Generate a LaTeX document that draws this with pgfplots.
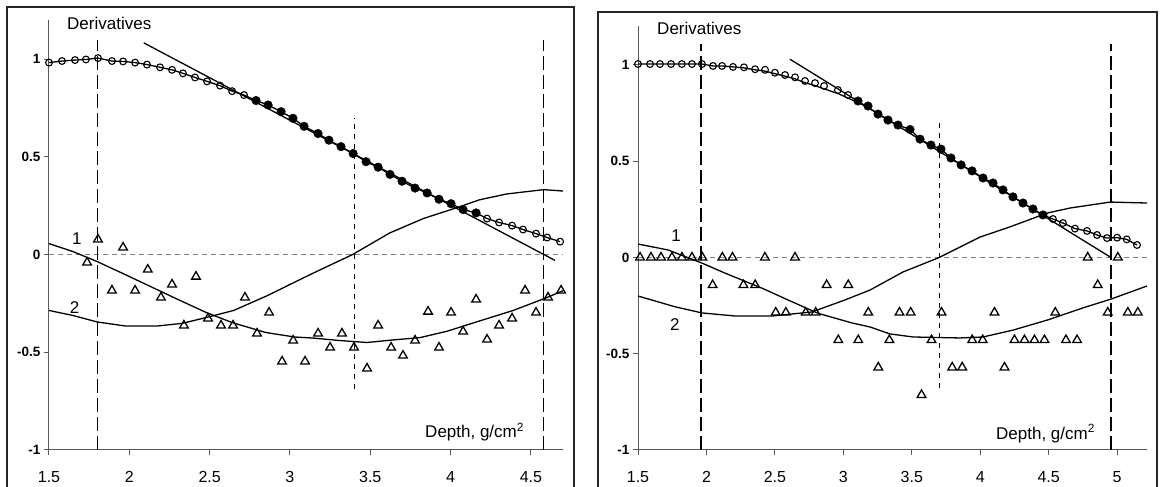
\documentclass[border=0pt]{standalone}
\usepackage{fontspec}
\setmainfont{Liberation Sans}
\usepackage{pgfplots}
\pgfplotsset{compat=1.18}
\tikzset{lbl/.style={font=\fontsize{17}{20}\selectfont, inner sep=0pt}}
\pgfplotsset{
 mystyle/.style={
  scale only axis, axis lines=left,
  axis line style={-, gray!70!black, line width=1pt},
  tick style={gray!70!black, line width=1pt}, tick align=outside, major tick length=5pt,
  ymin=-1, ymax=1.2, ytick={-1,-0.5,0,0.5,1}, yticklabels={-1,-0.5,0,0.5,1},
  yticklabel style={font=\bfseries\fontsize{13.5}{15}\selectfont},
  xticklabel style={font=\fontsize{16}{18}\selectfont, yshift=-13pt},
  clip=false,
 },
 crv/.style={black, line width=1.3pt, no marks},
 tri/.style={only marks, mark=triangle, mark size=5pt, mark options={black, line width=1.3pt}},
 oc/.style={only marks, mark=o, mark size=3.4pt, mark options={black, line width=1.1pt}},
 fc/.style={only marks, mark=*, mark size=4.3pt, mark options={black}},
}
\begin{document}
\begin{tikzpicture}
\useasboundingbox (0pt,0pt) rectangle (1160pt,487pt);
\draw[line width=1.5pt, black!85] (7pt,-10pt) -- (7pt,480pt) -- (574pt,480pt) -- (574pt,-10pt);
\draw[line width=1.5pt, black!85] (598pt,-10pt) -- (598pt,475pt) -- (1157pt,475pt) -- (1157pt,-10pt);

% ---------------- LEFT PANEL ----------------
\begin{axis}[mystyle, at={(49pt,37pt)}, anchor=south west, width=514pt, height=430pt,
  xmin=1.5, xmax=4.7, xtick={1.5,2,2.5,3,3.5,4,4.5}, xticklabels={1.5,2,2.5,3,3.5,4,4.5}]
\addplot[gray, line width=0.9pt, dash pattern=on 5pt off 4pt] coordinates {(1.5,0) (4.7,0)};
\addplot[black, line width=1.1pt, dash pattern=on 14pt off 5pt] coordinates {(1.8,-1) (1.8,1.1)};
\addplot[black, line width=1.1pt, dash pattern=on 14pt off 5pt] coordinates {(4.58,-1) (4.58,1.1)};
\addplot[black, line width=0.8pt, dash pattern=on 5pt off 5pt] coordinates {(3.4,-0.69) (3.4,0.70)};
% tangent
\addplot[crv] coordinates {(2.09,1.083) (4.65,-0.03)};
% curve 1
\addplot[crv] coordinates {(1.50,0.056) (1.65,0.015) (1.80,-0.036) (1.96,-0.097) (2.12,-0.159) (2.29,-0.225) (2.48,-0.297) (2.64,-0.348) (2.85,-0.399) (3.03,-0.422) (3.14,-0.427) (3.31,-0.440) (3.48,-0.450) (3.64,-0.437) (3.81,-0.425) (3.98,-0.392) (4.18,-0.340) (4.39,-0.286) (4.60,-0.220) (4.70,-0.185)};
% curve 2
\addplot[crv] coordinates {(1.50,-0.286) (1.65,-0.312) (1.80,-0.345) (1.98,-0.366) (2.17,-0.366) (2.33,-0.352) (2.48,-0.322) (2.65,-0.286) (2.86,-0.210) (3.05,-0.133) (3.14,-0.097) (3.39,0.000) (3.62,0.110) (3.83,0.184) (4.04,0.240) (4.18,0.280) (4.35,0.310) (4.58,0.332) (4.70,0.325)};
% circles curve
\addplot[crv] coordinates {(1.500,0.982) (1.581,0.990) (1.662,0.995) (1.730,0.998) (1.805,1.005) (1.892,0.990) (1.961,0.988) (2.036,0.982) (2.110,0.972) (2.191,0.958) (2.266,0.945) (2.334,0.927) (2.409,0.906) (2.484,0.886) (2.565,0.864) (2.640,0.836) (2.714,0.816) (2.789,0.788) (2.864,0.765) (2.945,0.731) (3.019,0.697) (3.088,0.656) (3.175,0.619) (3.243,0.585) (3.318,0.552) (3.393,0.517) (3.474,0.475) (3.549,0.447) (3.623,0.410) (3.698,0.375) (3.779,0.340) (3.854,0.315) (3.928,0.283) (4.003,0.260) (4.078,0.230) (4.159,0.213) (4.227,0.184) (4.302,0.164) (4.383,0.148) (4.451,0.128) (4.532,0.107) (4.601,0.087) (4.682,0.066)};
\addplot[oc] coordinates {(1.500,0.982) (1.581,0.990) (1.662,0.995) (1.730,0.998) (1.805,1.005) (1.892,0.990) (1.961,0.988) (2.036,0.982) (2.110,0.972) (2.191,0.958) (2.266,0.945) (2.334,0.927) (2.409,0.906) (2.484,0.886) (2.565,0.864) (2.640,0.836) (2.714,0.816) (4.227,0.184) (4.302,0.164) (4.383,0.148) (4.451,0.128) (4.532,0.107) (4.601,0.087) (4.682,0.066)};
\addplot[fc] coordinates {(2.789,0.788) (2.864,0.765) (2.945,0.731) (3.019,0.697) (3.088,0.656) (3.175,0.619) (3.243,0.585) (3.318,0.552) (3.393,0.517) (3.474,0.475) (3.549,0.447) (3.623,0.410) (3.698,0.375) (3.779,0.340) (3.854,0.315) (3.928,0.283) (4.003,0.260) (4.078,0.230) (4.159,0.213)};
% triangles
\addplot[tri] coordinates {(1.737,-0.041) (1.805,0.077) (1.892,-0.184) (1.961,0.036) (2.036,-0.184) (2.115,-0.077) (2.197,-0.220) (2.266,-0.153) (2.340,-0.363) (2.415,-0.113) (2.490,-0.327) (2.571,-0.363) (2.646,-0.363) (2.720,-0.220) (2.795,-0.404) (2.870,-0.297) (2.951,-0.547) (3.020,-0.440) (3.094,-0.547) (3.175,-0.404) (3.250,-0.476) (3.324,-0.404) (3.399,-0.476) (3.480,-0.583) (3.549,-0.363) (3.630,-0.476) (3.704,-0.517) (3.779,-0.440) (3.860,-0.292) (3.928,-0.476) (4.003,-0.297) (4.078,-0.394) (4.159,-0.230) (4.227,-0.435) (4.302,-0.363) (4.383,-0.327) (4.464,-0.184) (4.532,-0.297) (4.607,-0.220) (4.688,-0.184)};
\node[lbl, anchor=base west] at (axis cs:1.612,1.151) {Derivatives};
\node[lbl, anchor=base west] at (axis cs:3.841,-0.936) {Depth, g/cm\textsuperscript{2}};
\node[lbl] at (axis cs:1.674,0.082) {1};
\node[lbl] at (axis cs:1.659,-0.271) {2};
\end{axis}

% ---------------- RIGHT PANEL ----------------
\begin{axis}[mystyle, at={(638pt,37pt)}, anchor=south west, width=509pt, height=423.5pt,
  xmin=1.5, xmax=5.218, xtick={1.5,2,2.5,3,3.5,4,4.5,5}, xticklabels={1.5,2,2.5,3,3.5,4,4.5,5}]
\addplot[gray, line width=0.9pt, dash pattern=on 5pt off 4pt] coordinates {(1.5,0) (5.218,0)};
\addplot[black, line width=1.1pt, dash pattern=on 14pt off 5pt] coordinates {(1.96,-1) (1.96,1.11)};
\addplot[black, line width=1.1pt, dash pattern=on 14pt off 5pt] coordinates {(4.955,-1) (4.955,1.11)};
\addplot[black, line width=0.8pt, dash pattern=on 5pt off 5pt] coordinates {(3.7,-0.68) (3.7,0.71)};
\addplot[crv] coordinates {(2.61,1.03) (4.955,0.0)};
% curve 1
\addplot[crv] coordinates {(1.50,0.070) (1.72,0.039) (1.967,-0.029) (2.135,-0.081) (2.405,-0.159) (2.625,-0.230) (2.815,-0.290) (3.063,-0.340) (3.195,-0.361) (3.34,-0.397) (3.51,-0.413) (3.85,-0.418) (4.02,-0.413) (4.24,-0.377) (4.49,-0.325) (4.75,-0.262) (4.955,-0.216) (5.218,-0.148)};
% curve 2
\addplot[crv] coordinates {(1.50,-0.200) (1.77,-0.256) (1.967,-0.288) (2.21,-0.304) (2.48,-0.304) (2.77,-0.283) (3.01,-0.221) (3.195,-0.169) (3.436,-0.075) (3.70,0.000) (3.998,0.106) (4.217,0.159) (4.49,0.231) (4.656,0.257) (4.95,0.288) (5.218,0.283)};
% circles curve
\addplot[crv] coordinates {(1.500,1.005) (1.588,1.005) (1.660,1.005) (1.741,1.005) (1.820,1.005) (1.894,1.005) (1.967,1.005) (2.048,0.995) (2.114,0.995) (2.194,0.990) (2.274,0.985) (2.355,0.975) (2.428,0.968) (2.500,0.955) (2.574,0.942) (2.647,0.928) (2.720,0.908) (2.793,0.893) (2.859,0.876) (2.960,0.852) (3.034,0.828) (3.107,0.805) (3.180,0.780) (3.253,0.745) (3.326,0.714) (3.399,0.688) (3.487,0.665) (3.560,0.615) (3.640,0.584) (3.713,0.563) (3.786,0.517) (3.860,0.481) (3.940,0.450) (4.020,0.413) (4.093,0.387) (4.166,0.351) (4.239,0.315) (4.312,0.283) (4.385,0.252) (4.458,0.221) (4.531,0.200) (4.604,0.179) (4.692,0.150) (4.780,0.138) (4.853,0.117) (4.926,0.101) (5.000,0.103) (5.070,0.094) (5.145,0.065)};
\addplot[oc] coordinates {(1.500,1.005) (1.588,1.005) (1.660,1.005) (1.741,1.005) (1.820,1.005) (1.894,1.005) (1.967,1.005) (2.048,0.995) (2.114,0.995) (2.194,0.990) (2.274,0.988) (2.355,0.978) (2.428,0.975) (2.500,0.960) (2.574,0.948) (2.647,0.936) (2.720,0.917) (2.793,0.906) (2.859,0.891) (2.960,0.870) (3.034,0.844) (4.531,0.200) (4.604,0.179) (4.692,0.150) (4.780,0.138) (4.853,0.117) (4.926,0.101) (5.000,0.103) (5.070,0.094) (5.145,0.065)};
\addplot[fc] coordinates {(3.107,0.813) (3.180,0.787) (3.253,0.745) (3.326,0.714) (3.399,0.688) (3.487,0.665) (3.560,0.615) (3.640,0.584) (3.713,0.563) (3.786,0.517) (3.860,0.481) (3.940,0.450) (4.020,0.413) (4.093,0.387) (4.166,0.351) (4.239,0.315) (4.312,0.283) (4.385,0.252) (4.458,0.221)};
% triangles
\addplot[tri] coordinates {(1.515,0) (1.595,0) (1.668,0) (1.748,0) (1.821,0) (1.894,0) (1.970,0) (2.116,0) (2.190,0) (2.427,0) (2.647,0) (4.785,0) (5.005,0)
 (2.045,-0.143) (2.270,-0.143) (2.356,-0.143) (2.878,-0.143) (3.036,-0.143) (4.858,-0.143)
 (2.506,-0.286) (2.580,-0.286) (2.725,-0.286) (2.798,-0.286) (3.182,-0.286) (3.410,-0.286) (3.492,-0.286) (3.717,-0.286) (4.104,-0.286) (4.548,-0.286) (4.931,-0.286) (5.078,-0.286) (5.151,-0.286)
 (2.963,-0.429) (3.109,-0.429) (3.336,-0.429) (3.644,-0.429) (3.941,-0.429) (4.018,-0.429) (4.250,-0.429) (4.323,-0.429) (4.396,-0.429) (4.469,-0.429) (4.626,-0.429) (4.707,-0.429)
 (3.255,-0.571) (3.795,-0.571) (3.868,-0.571) (4.177,-0.571)
 (3.571,-0.714)};
\node[lbl, anchor=base west] at (axis cs:1.639,1.161) {Derivatives};
\node[lbl, anchor=base west] at (axis cs:4.115,-0.943) {Depth, g/cm\textsuperscript{2}};
\node[lbl] at (axis cs:1.778,0.112) {1};
\node[lbl] at (axis cs:1.77,-0.35) {2};
\end{axis}
\end{tikzpicture}
\end{document}
